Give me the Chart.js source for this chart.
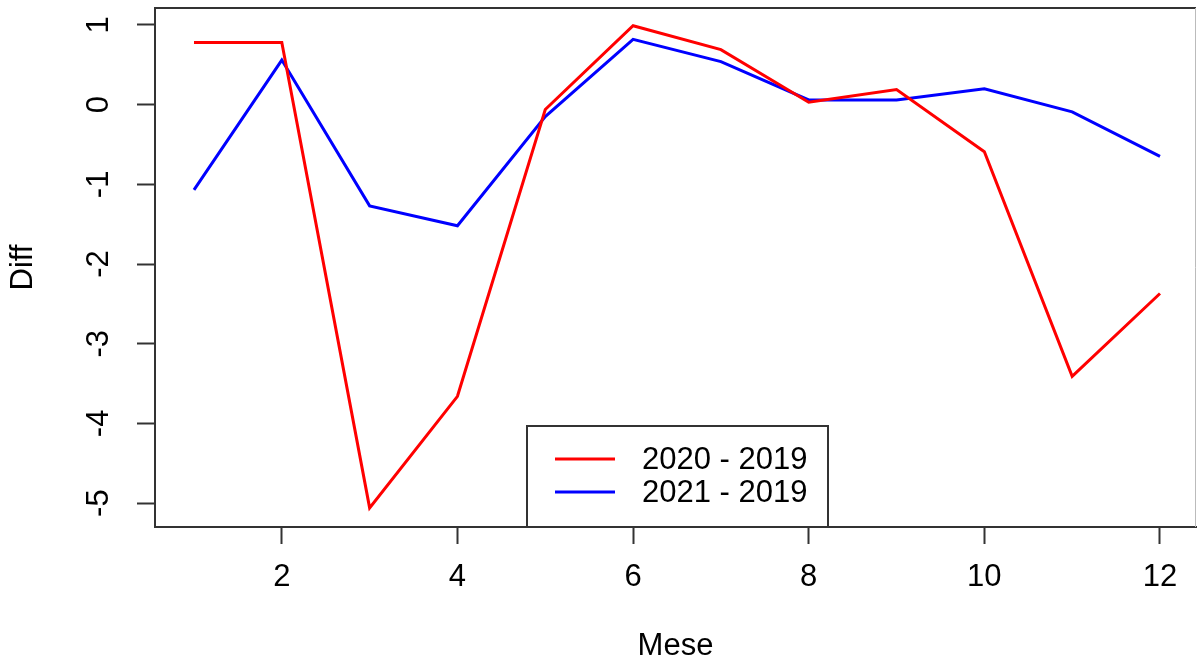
<!DOCTYPE html>
<html>
<head>
<meta charset="utf-8">
<script src="https://cdn.jsdelivr.net/npm/chart.js@4.4.1/dist/chart.umd.min.js"></script>
<style>
  html, body { margin: 0; padding: 0; background: #fff; }
  #diffChart { display: block; }
</style>
</head>
<body>
<canvas id="diffChart" width="1197" height="663"></canvas>
<script>
// Data
const months = [1, 2, 3, 4, 5, 6, 7, 8, 9, 10, 11, 12];
const diff2020 = [0.78, 0.78, -5.06, -3.66, -0.06, 0.99, 0.69, 0.03, 0.19, -0.59, -3.41, -2.37];
const diff2021 = [-1.07, 0.56, -1.27, -1.52, -0.15, 0.82, 0.54, 0.06, 0.06, 0.20, -0.09, -0.65];
const seriesLabels = ['2020 - 2019', '2021 - 2019'];
const xTicks = [2, 4, 6, 8, 10, 12];
const yTicks = [-5, -4, -3, -2, -1, 0, 1];

const FONT = "'Liberation Sans', Arial, sans-serif";
const AXIS = '#333';

function toPoints(values) {
    return months.map((m, i) => ({ x: m, y: values[i] }));
}

// full R-style box around the plot area + legend inside
const boxPlugin = {
    id: 'rBox',
    afterDraw(chart) {
        const ctx = chart.ctx;
        const a = chart.chartArea;
        ctx.save();
        ctx.lineWidth = 2;
        ctx.strokeStyle = AXIS;
        ctx.beginPath();
        ctx.moveTo(a.right, a.top);
        ctx.lineTo(a.left, a.top);
        ctx.lineTo(a.left, a.bottom);
        ctx.lineTo(a.right, a.bottom);
        ctx.stroke();
        ctx.strokeStyle = '#bbb';
        ctx.lineWidth = 1;
        ctx.beginPath();
        ctx.moveTo(a.right - 0.5, a.top);
        ctx.lineTo(a.right - 0.5, a.bottom);
        ctx.stroke();

        // legend
        const bx = a.left + 372, by = a.bottom - 101, bw = 301, bh = 101;
        ctx.fillStyle = '#fff';
        ctx.fillRect(bx, by, bw, bh);
        ctx.strokeStyle = AXIS;
        ctx.lineWidth = 2;
        ctx.strokeRect(bx, by, bw, bh);
        ctx.font = '31px ' + FONT;
        ctx.textBaseline = 'middle';
        ctx.textAlign = 'left';
        chart.data.datasets.forEach((ds, i) => {
            const y = by + 33 + i * 33;
            ctx.strokeStyle = ds.borderColor;
            ctx.lineWidth = 3;
            ctx.beginPath();
            ctx.moveTo(bx + 28, y);
            ctx.lineTo(bx + 88, y);
            ctx.stroke();
            ctx.fillStyle = '#000';
            ctx.fillText(ds.label, bx + 115, y + 1);
        });
        ctx.restore();
    }
};

const diffChart = new Chart(document.getElementById('diffChart'), {
    type: 'line',
    data: {
        datasets: [{
            label: seriesLabels[0],
            data: toPoints(diff2020),
            borderColor: '#ff0000',
            borderWidth: 3,
            pointRadius: 0,
            tension: 0
        }, {
            label: seriesLabels[1],
            data: toPoints(diff2021),
            borderColor: '#0000ff',
            borderWidth: 3,
            pointRadius: 0,
            tension: 0
        }]
    },
    options: {
        responsive: false,
        animation: false,
        devicePixelRatio: 1,
        layout: { padding: { top: 8, right: 1, left: 0, bottom: 0 } },
        plugins: {
            legend: { display: false },
            tooltip: { enabled: false }
        },
        scales: {
            x: {
                type: 'linear',
                min: 0.556,
                max: 12.41,
                afterBuildTicks: scale => { scale.ticks = xTicks.map(v => ({ value: v })); },
                afterFit: scale => {
                    scale.height = 136;
                    scale.paddingLeft = 0;
                    scale.paddingRight = 0;
                },
                grid: { drawOnChartArea: false, drawTicks: true, tickLength: 17, tickColor: AXIS, tickWidth: 2 },
                border: { display: true, color: AXIS, width: 2 },
                ticks: {
                    padding: 15,
                    maxRotation: 0,
                    autoSkip: false,
                    color: '#000',
                    font: { family: FONT, size: 31 },
                    callback: v => String(v)
                },
                title: {
                    display: true,
                    text: 'Mese',
                    color: '#000',
                    font: { family: FONT, size: 31, lineHeight: 1 },
                    padding: { top: 0, bottom: 1 }
                }
            },
            y: {
                type: 'linear',
                min: -5.30,
                max: 1.213,
                afterBuildTicks: scale => { scale.ticks = yTicks.map(v => ({ value: v })); },
                afterFit: scale => {
                    scale.width = 155;
                    scale.paddingTop = 0;
                    scale.paddingBottom = 0;
                },
                grid: { drawOnChartArea: false, drawTicks: true, tickLength: 18, tickColor: AXIS, tickWidth: 2 },
                border: { display: true, color: AXIS, width: 2 },
                ticks: {
                    padding: 24,
                    minRotation: 90,
                    maxRotation: 90,
                    crossAlign: 'center',
                    autoSkip: false,
                    color: '#000',
                    font: { family: FONT, size: 31 },
                    callback: v => String(v)
                },
                title: {
                    display: true,
                    text: 'Diff',
                    color: '#000',
                    font: { family: FONT, size: 31, lineHeight: 1 },
                    padding: { top: 8, bottom: 0 }
                }
            }
        }
    },
    plugins: [boxPlugin]
});
</script>
</body>
</html>
